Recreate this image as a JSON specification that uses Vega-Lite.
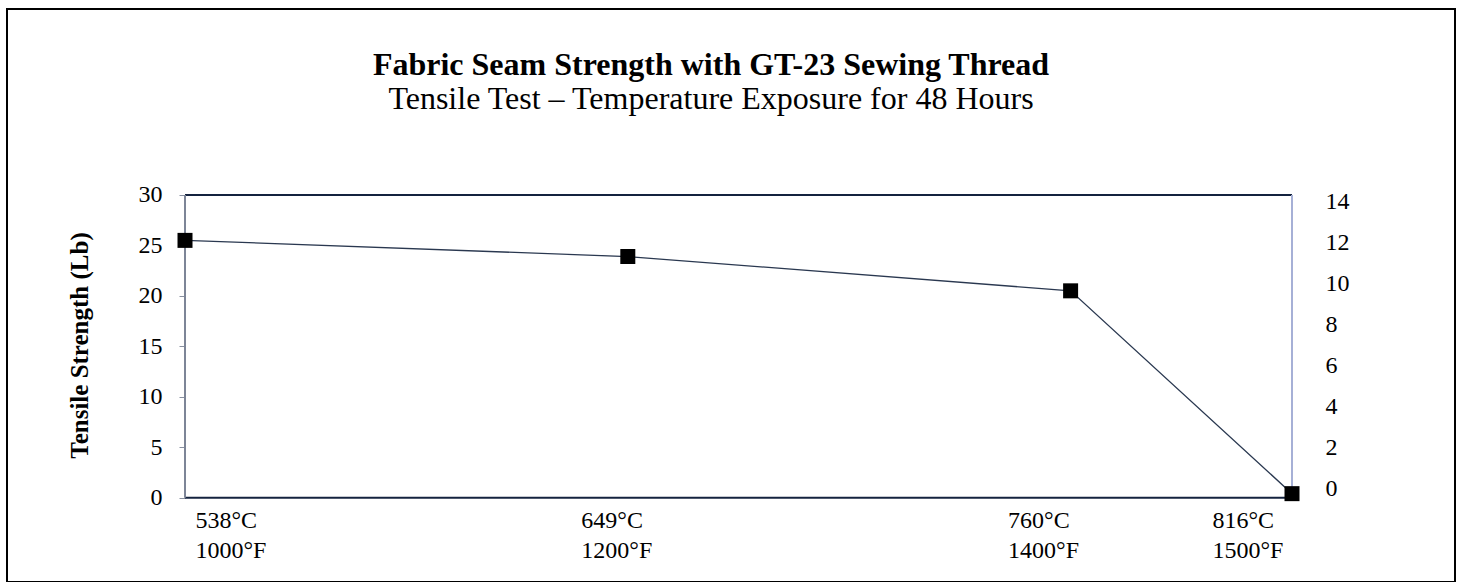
{
  "$schema": "https://vega.github.io/schema/vega-lite/v6.json",
  "width": 1448,
  "height": 573,
  "autosize": {"type": "none"},
  "padding": {"left": 7, "top": 9, "right": 7, "bottom": 0},
  "background": "white",
  "config": {
    "view": {"stroke": "black", "strokeWidth": 2},
    "font": "Liberation Serif"
  },
  "title": {
    "text": "Fabric Seam Strength with GT-23 Sewing Thread",
    "subtitle": "Tensile Test – Temperature Exposure for 48 Hours",
    "anchor": "middle",
    "frame": "group",
    "offset": -107,
    "dx": -20,
    "font": "Liberation Serif",
    "fontSize": 32,
    "fontWeight": "bold",
    "color": "black",
    "subtitleFont": "Liberation Serif",
    "subtitleFontSize": 32,
    "subtitleColor": "black",
    "subtitlePadding": 2
  },
  "data": {
    "values": [
      {"f": 1000, "lb": 25.5},
      {"f": 1200, "lb": 23.9},
      {"f": 1400, "lb": 20.5},
      {"f": 1500, "lb": 0.4}
    ]
  },
  "layer": [
    {
      "layer": [
        {
          "data": {"values": [{}]},
          "mark": {"type": "rule", "color": "#14233f", "strokeWidth": 2},
          "encoding": {
            "x": {"datum": 1000, "type": "quantitative"},
            "x2": {"datum": 1500},
            "y": {"datum": 30, "type": "quantitative"}
          }
        },
        {
          "data": {"values": [{}]},
          "mark": {"type": "rule", "color": "#14233f", "strokeWidth": 2},
          "encoding": {
            "x": {"datum": 1000, "type": "quantitative"},
            "x2": {"datum": 1500},
            "y": {"datum": 0, "type": "quantitative"}
          }
        },
        {
          "data": {"values": [{}]},
          "mark": {"type": "rule", "color": "#7d8597", "strokeWidth": 2},
          "encoding": {
            "x": {"datum": 1000, "type": "quantitative"},
            "y": {"datum": 0, "type": "quantitative"},
            "y2": {"datum": 30}
          }
        },
        {
          "data": {"values": [{}]},
          "mark": {"type": "rule", "color": "#a6b0d6", "strokeWidth": 2},
          "encoding": {
            "x": {"datum": 1500, "type": "quantitative"},
            "y": {"datum": 0, "type": "quantitative"},
            "y2": {"datum": 30}
          }
        },
        {
          "mark": {"type": "line", "color": "#2a3850", "strokeWidth": 1.3},
          "encoding": {
            "x": {
              "field": "f",
              "type": "quantitative",
              "scale": {"domain": [919.6, 1573.62], "nice": false, "zero": false},
              "axis": {
                "values": [1000, 1200, 1400, 1500],
                "offset": -84.3,
                "domain": false,
                "ticks": false,
                "grid": false,
                "title": null,
                "labelAlign": "left",
                "labelBaseline": "top",
                "labelPadding": 11,
                "labelLineHeight": 30,
                "labelFontSize": 24,
                "labelColor": "black",
                "labelFlush": false,
                "labelOverlap": false,
                "labelBound": false,
                "labelExpr": "[format(round((datum.value - 32) * 5 / 9), 'd') + '°C', datum.value + '°F']",
                "labelOffset": {
                  "condition": [
                    {"test": "datum.value == 1000", "value": 10},
                    {"test": "datum.value == 1200", "value": -47},
                    {"test": "datum.value == 1400", "value": -63}
                  ],
                  "value": -80
                }
              }
            },
            "y": {
              "field": "lb",
              "type": "quantitative",
              "scale": {"domain": [-8.355, 48.43], "nice": false, "zero": false},
              "axis": {
                "values": [0, 5, 10, 15, 20, 25, 30],
                "offset": -178,
                "domain": false,
                "ticks": true,
                "tickSize": 6,
                "tickColor": "#8890a0",
                "grid": false,
                "labelFontSize": 24,
                "labelColor": "black",
                "labelPadding": 17,
                "title": "Tensile Strength (Lb)",
                "titleFont": "Liberation Serif",
                "titleFontSize": 25,
                "titleFontWeight": "bold",
                "titleColor": "black",
                "titleAngle": -90,
                "titleAlign": "center",
                "titleBaseline": "middle",
                "titleX": -106,
                "titleY": 336
              }
            }
          }
        },
        {
          "mark": {"type": "point", "shape": "square", "filled": true, "color": "black", "size": 225, "opacity": 1},
          "encoding": {
            "x": {"field": "f", "type": "quantitative"},
            "y": {"field": "lb", "type": "quantitative"}
          }
        }
      ]
    },
    {
      "data": {"values": [{}]},
      "mark": {"type": "point", "opacity": 0},
      "encoding": {
        "x": {"datum": 1000, "type": "quantitative"},
        "y": {
          "datum": 0,
          "type": "quantitative",
          "scale": {"domain": [-4.585, 23.366], "nice": false, "zero": false},
          "axis": {
            "orient": "right",
            "values": [0, 2, 4, 6, 8, 10, 12, 14],
            "offset": -163,
            "domain": false,
            "ticks": false,
            "grid": false,
            "title": null,
            "labelPadding": 33,
            "labelFontSize": 24,
            "labelColor": "black",
            "labelAlign": "left"
          }
        }
      }
    }
  ],
  "resolve": {"scale": {"y": "independent"}, "axis": {"y": "independent"}}
}
